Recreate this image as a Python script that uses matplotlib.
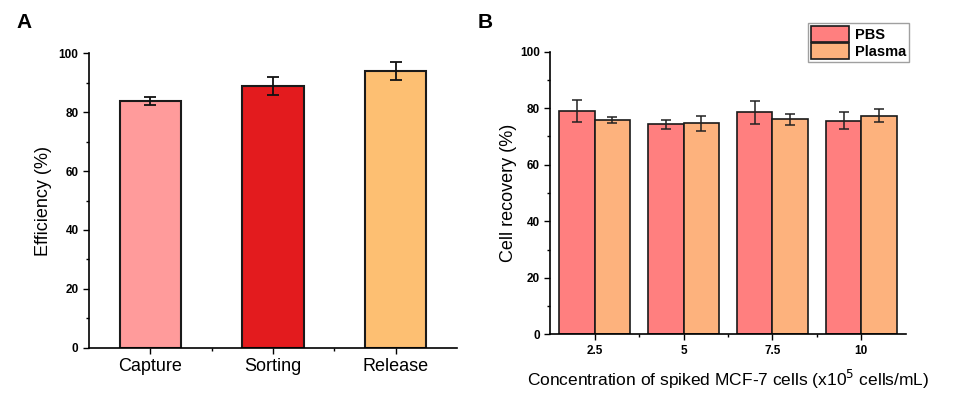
import matplotlib
matplotlib.use("Agg")
import matplotlib.pyplot as plt
import numpy as np
from matplotlib.ticker import MultipleLocator, FixedLocator

plt.rcParams['font.family'] = ['Liberation Sans', 'DejaVu Sans']

# Panel A data
stages = ["Capture", "Sorting", "Release"]
efficiency = [83.8, 88.9, 94.0]
efficiency_err = [1.4, 2.9, 3.2]
stage_colors = ["#FF9B9B", "#E31B1E", "#FDBF72"]

# Panel B data
concentrations = ["2.5", "5", "7.5", "10"]
pbs_recovery = [79.0, 74.3, 78.5, 75.5]
pbs_err = [4.0, 1.5, 4.1, 3.0]
plasma_recovery = [75.8, 74.7, 76.1, 77.4]
plasma_err = [1.0, 2.7, 1.9, 2.4]

fig = plt.figure(figsize=(9.55, 3.97), dpi=100)

def style_axes(ax):
    ax.spines['top'].set_visible(False)
    ax.spines['right'].set_visible(False)
    ax.spines['left'].set_linewidth(1.2)
    ax.spines['bottom'].set_linewidth(1.2)
    ax.tick_params(which='both', direction='out', width=1.0)
    ax.tick_params(which='major', length=4)
    ax.tick_params(which='minor', length=2.5)

# Panel A
axA = fig.add_axes([0.0932, 0.1242, 0.3853, 0.7415])
xA = np.arange(len(stages))
axA.bar(xA, efficiency, width=0.5, color=stage_colors, edgecolor="#1a1a1a", linewidth=1.5,
        yerr=efficiency_err, error_kw=dict(ecolor="#111111", elinewidth=1.3, capsize=4, capthick=1.3))
axA.set_xlim(-0.5, 2.5)
axA.set_ylim(0, 100)
axA.set_xticks(xA)
axA.set_xticklabels(stages, fontsize=13)
axA.xaxis.set_minor_locator(FixedLocator([0.5, 1.5]))
axA.yaxis.set_major_locator(MultipleLocator(20))
axA.yaxis.set_minor_locator(MultipleLocator(10))
for lbl in axA.get_yticklabels():
    lbl.set_fontweight('bold')
    lbl.set_fontsize(8.5)
axA.set_ylabel("Efficiency (%)", fontsize=13, labelpad=5)
style_axes(axA)
fig.text(0.017, 0.93, "A", fontsize=15, fontweight='bold')

# Panel B
axB = fig.add_axes([0.5762, 0.1579, 0.3722, 0.7119])
xB = np.arange(len(concentrations))
w = 0.4
axB.bar(xB - w/2, pbs_recovery, width=w, color="#FF7F7F", edgecolor="#1a1a1a", linewidth=1.2,
        yerr=pbs_err, error_kw=dict(ecolor="#222222", elinewidth=1.1, capsize=3.5, capthick=1.1),
        label="PBS")
axB.bar(xB + w/2, plasma_recovery, width=w, color="#FDB27D", edgecolor="#1a1a1a", linewidth=1.2,
        yerr=plasma_err, error_kw=dict(ecolor="#222222", elinewidth=1.1, capsize=3.5, capthick=1.1),
        label="Plasma")
axB.set_xlim(-0.5, 3.5)
axB.set_ylim(0, 100)
axB.set_xticks(xB)
axB.set_xticklabels(concentrations, fontsize=8.5, fontweight='bold')
axB.xaxis.set_minor_locator(FixedLocator([0.5, 1.5, 2.5]))
axB.yaxis.set_major_locator(MultipleLocator(20))
axB.yaxis.set_minor_locator(MultipleLocator(10))
for lbl in axB.get_yticklabels():
    lbl.set_fontweight('bold')
    lbl.set_fontsize(8.5)
axB.set_ylabel("Cell recovery (%)", fontsize=13, labelpad=2)
axB.set_xlabel("Concentration of spiked MCF-7 cells (x10$^{5}$ cells/mL)", fontsize=12.5, labelpad=8)
style_axes(axB)
leg = axB.legend(loc='upper right', bbox_to_anchor=(1.018, 1.112), prop={'weight': 'bold', 'size': 10.5},
                 frameon=True, fancybox=False, edgecolor="#888888", handlelength=2.6, handleheight=1.3,
                 handletextpad=0.4, borderpad=0.2, labelspacing=0.1, borderaxespad=0.2)
leg.get_frame().set_linewidth(1.0)
fig.text(0.500, 0.93, "B", fontsize=15, fontweight='bold')

fig.savefig("out.png", dpi=100)
